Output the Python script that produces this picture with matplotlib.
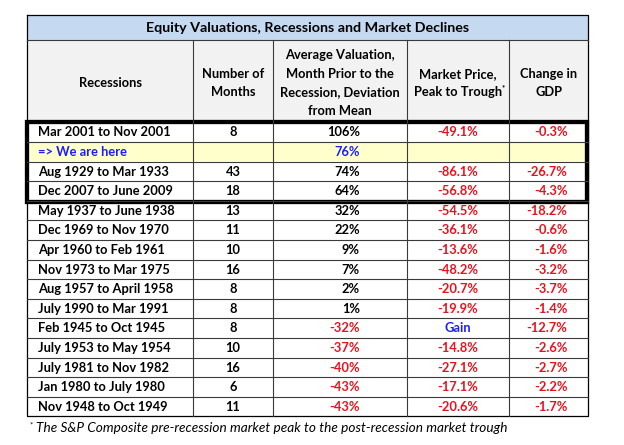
import matplotlib
matplotlib.use("Agg")
import matplotlib.pyplot as plt
from matplotlib.patches import Rectangle

title = "Equity Valuations, Recessions and Market Declines"
headers = [
    "Recessions",
    "Number of\nMonths",
    "Average Valuation,\nMonth Prior to the\nRecession, Deviation\nfrom Mean",
    "Market Price,\nPeak to Trough",
    "Change in\nGDP",
]

recessions = [
    "Mar 2001 to Nov 2001", "=> We are here", "Aug 1929 to Mar 1933",
    "Dec 2007 to June 2009", "May 1937 to June 1938", "Dec 1969 to Nov 1970",
    "Apr 1960 to Feb 1961", "Nov 1973 to Mar 1975", "Aug 1957 to April 1958",
    "July 1990 to Mar 1991", "Feb 1945 to Oct 1945", "July 1953 to May 1954",
    "July 1981 to Nov 1982", "Jan 1980 to July 1980", "Nov 1948 to Oct 1949",
]
months = ["8", "", "43", "18", "13", "11", "10", "16", "8", "8", "8", "10", "16", "6", "11"]
valuation = ["106%", "76%", "74%", "64%", "32%", "22%", "9%", "7%", "2%", "1%",
             "-32%", "-37%", "-40%", "-43%", "-43%"]
market = ["-49.1%", "", "-86.1%", "-56.8%", "-54.5%", "-36.1%", "-13.6%", "-48.2%",
          "-20.7%", "-19.9%", "Gain", "-14.8%", "-27.1%", "-17.1%", "-20.6%"]
gdp = ["-0.3%", "", "-26.7%", "-4.3%", "-18.2%", "-0.6%", "-1.6%", "-3.2%",
       "-3.7%", "-1.4%", "-12.7%", "-2.6%", "-2.7%", "-2.2%", "-1.7%"]
footnote = "The S&P Composite pre-recession market peak to the post-recession market trough"

here_row = 1

# layout in pixels
col_edges = [27, 193, 273, 407, 509, 588]
title_top, title_bot = 14.5, 39.5
head_bot = 122.3
row_h = 19.6
n_rows = len(recessions)
table_bot = head_bot + row_h * n_rows

RED = "#e8121c"
BLUE = "#1c1cff"
BLACK = "#000000"
LINE = "#3a3a3a"
FONT = "Lato"
FS = 9.3

fig = plt.figure(figsize=(6.24, 4.45), dpi=100)
ax = fig.add_axes([0, 0, 1, 1])
ax.set_xlim(0, 624)
ax.set_ylim(445, 0)
ax.axis("off")

left, right = col_edges[0], col_edges[-1]
width = right - left

# backgrounds
ax.add_patch(Rectangle((left, title_top), width, title_bot - title_top,
                       facecolor="#c5d9f1", edgecolor="none"))
ax.add_patch(Rectangle((left, title_bot), width, head_bot - title_bot,
                       facecolor="#f2f2f2", edgecolor="none"))
ax.add_patch(Rectangle((left, head_bot + row_h * here_row), width, row_h,
                       facecolor="#ffffcc", edgecolor="none"))

# grid lines
ax.plot([left, right, right, left, left],
        [title_top, title_top, table_bot, table_bot, title_top], color=BLACK, lw=0.9)
ax.plot([left, right], [title_bot, title_bot], color=LINE, lw=0.8)
for x in col_edges[1:-1]:
    ax.plot([x, x], [title_bot, table_bot], color=LINE, lw=0.8)
for i in range(1, n_rows):
    y = head_bot + row_h * i
    ax.plot([left, right], [y, y], color=LINE, lw=0.8)

# thick box around the top four rows
ax.add_patch(Rectangle((left, head_bot), width - 1, row_h * 4 + 1, facecolor="none",
                       edgecolor="black", lw=3.1))

# title and headers
ax.text((left + right) / 2, (title_top + title_bot) / 2 + 0.5, title, ha="center",
        va="center", fontsize=FS + 1.0, fontweight="bold", family=FONT, color=BLACK)
head_mid = 83
for j, h in enumerate(headers):
    cx = (col_edges[j] + col_edges[j + 1]) / 2
    ax.text(cx, head_mid, h, ha="center", va="center", fontsize=FS,
            fontweight="bold", family=FONT, color=BLACK, linespacing=1.68)
ax.text(503.5, 91, "*", ha="center", va="bottom", fontsize=5.5, fontweight="bold",
        family=FONT, color=BLACK)

# body cells
def cell_color(s, default):
    if s == "Gain":
        return BLUE
    if s.startswith("-"):
        return RED
    return default

for i in range(n_rows):
    cy = head_bot + row_h * i + row_h / 2 + 0.3
    is_here = i == here_row
    ax.text(38, cy, recessions[i], ha="left", va="center", fontsize=FS,
            fontweight="bold", family=FONT, color=BLUE if is_here else BLACK)
    ax.text((col_edges[1] + col_edges[2]) / 2, cy, months[i], ha="center", va="center",
            fontsize=FS, fontweight="bold", family=FONT, color=BLACK)
    ax.text(360, cy, valuation[i], ha="right", va="center", fontsize=FS,
            fontweight="bold", family=FONT,
            color=BLUE if is_here else cell_color(valuation[i], BLACK))
    ax.text((col_edges[3] + col_edges[4]) / 2, cy, market[i], ha="center", va="center",
            fontsize=FS, fontweight="bold", family=FONT, color=cell_color(market[i], RED))
    ax.text(567.5, cy, gdp[i], ha="right", va="center", fontsize=FS,
            fontweight="bold", family=FONT, color=cell_color(gdp[i], RED))

# footnote
ax.text(30, table_bot + 12, "*", ha="left", va="bottom", fontsize=5.5, family=FONT,
        color=BLACK)
ax.text(36, table_bot + 12, footnote, ha="left", va="center", fontsize=FS + 0.5,
        style="italic", family=FONT, color=BLACK)

fig.savefig("out.png", dpi=100, facecolor="white")
